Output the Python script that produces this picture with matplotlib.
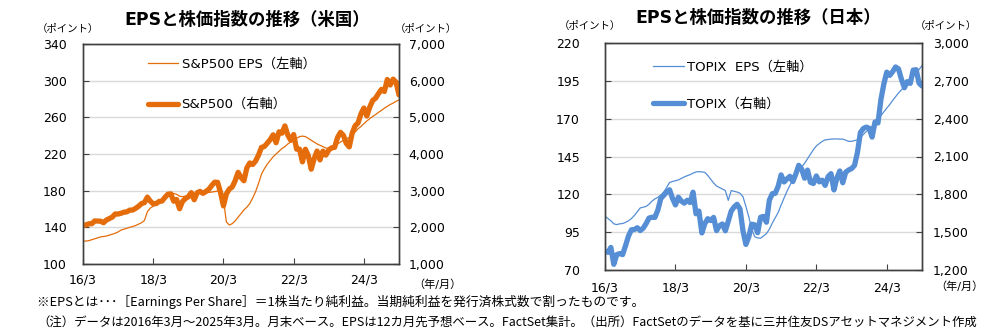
import matplotlib
matplotlib.use('Agg')
import matplotlib.pyplot as plt
import numpy as np

plt.rcParams['font.family'] = ['DejaVu Sans', 'Noto Sans CJK JP']

# 月末データ 2016/3 ～ 2025/3
sp500 = [2060, 2065, 2097, 2099, 2174, 2171, 2168, 2126, 2199, 2239,
         2279, 2364, 2363, 2384, 2412, 2423, 2470, 2472, 2519, 2575, 2648, 2674,
         2824, 2714, 2641, 2648, 2705, 2718, 2816, 2902, 2914, 2712, 2760, 2507,
         2704, 2784, 2834, 2946, 2752, 2942, 2980, 2926, 2977, 3038, 3141, 3231,
         3226, 2954, 2585, 2912, 3044, 3100, 3271, 3500, 3363, 3270, 3622, 3756,
         3714, 3811, 3973, 4181, 4204, 4298, 4395, 4523, 4308, 4605, 4567, 4766,
         4516, 4374, 4530, 4132, 4132, 3785, 4130, 3955, 3586, 3872, 4080, 3840,
         4077, 3970, 4109, 4169, 4180, 4450, 4589, 4508, 4288, 4194, 4568, 4770,
         4846, 5096, 5254, 5036, 5278, 5460, 5522, 5648, 5762, 5705, 6032, 5882,
         6041, 5955, 5612]

sp500_eps = [125, 125, 125.5, 126.5, 127.5, 128.5, 129.5, 130, 130.5, 131.5,
             132.5, 133.5, 135, 137, 138, 139, 140, 141, 142, 143.5, 145, 147.5,
             157, 161, 163, 166, 168, 170, 172.5, 174.5, 176, 177, 176, 174,
             173.5, 174, 175, 175.5, 176.5, 177, 177.5, 177.5, 178, 178, 178.5, 179,
             179.5, 179, 170, 146, 142.5, 144, 147, 151, 155, 159, 162, 166,
             172, 179, 188, 198, 204, 209, 213, 217, 220, 223, 226, 228,
             231, 233, 235, 237, 239, 239.5, 239, 237, 235, 233, 231, 229.5,
             228, 226.5, 226, 227, 228.5, 231, 233, 235, 236.5, 238, 241, 244,
             247.5, 250, 253, 256, 258.5, 261, 263, 265.5, 267.5, 270, 272, 274,
             275.5, 277.5, 279]

topix = [1347, 1340, 1379, 1245, 1322, 1330, 1322, 1393, 1469, 1519,
         1521, 1535, 1513, 1531, 1568, 1612, 1618, 1617, 1675, 1766, 1792, 1818,
         1836, 1768, 1716, 1777, 1747, 1730, 1753, 1735, 1817, 1646, 1667, 1494,
         1567, 1607, 1592, 1617, 1512, 1551, 1565, 1511, 1587, 1667, 1700, 1721,
         1684, 1511, 1403, 1464, 1563, 1558, 1496, 1618, 1625, 1579, 1754, 1805,
         1808, 1864, 1954, 1898, 1922, 1943, 1901, 1960, 2030, 2001, 1928, 1992,
         1895, 1886, 1946, 1899, 1912, 1871, 1940, 1964, 1835, 1929, 1985, 1892,
         1975, 1993, 2004, 2029, 2131, 2289, 2322, 2333, 2324, 2254, 2374, 2366,
         2551, 2675, 2769, 2743, 2773, 2810, 2794, 2712, 2645, 2694, 2680, 2785,
         2788, 2682, 2659]

topix_eps = [105.5, 104, 102.5, 100.5, 100, 100.5, 100.7, 101.5, 102.5, 104,
             106, 108.5, 111, 111.5, 112, 113.5, 115.5, 117, 118, 119.5, 121.5, 124.5,
             127.8, 128.5, 129, 129.5, 130.5, 131.5, 132.3, 133, 134, 134.8, 135, 134.8,
             134.5, 132.5, 130, 127.5, 125.5, 124.5, 123.5, 122.5, 116, 122.5, 122, 121.5,
             120.7, 118.5, 112, 105, 97, 92, 91.2, 91, 92.5, 94, 97, 101,
             104.5, 108, 113, 117.5, 122, 126, 129.5, 132.5, 135.5, 138, 140.5, 143.5,
             146.5, 149.5, 152, 153.5, 155, 156, 156.2, 156.5, 156.6, 156.6, 156.5, 156.5,
             155.8, 155, 155, 155.5, 156, 157.5, 159.5, 161.5, 163, 165, 167, 169.3,
             172, 174.5, 177, 179.3, 182, 184.5, 187, 189, 191.5, 194, 196, 198,
             200, 202.5, 205]

x_ticks = [0, 24, 48, 72, 96]
x_labels = ['16/3', '18/3', '20/3', '22/3', '24/3']

orange = '#E46C0A'
blue = '#558ED5'
dark = '#404040'
W, H = 1007, 336

fig = plt.figure(figsize=(W / 100, H / 100), dpi=100)


def make_panel(rect, eps, idx, color, ylim, yticks, rlim, rticks, eps_label, idx_label,
               lpad, rpad, xpad, leg_anchor, leg_space):
    ax = fig.add_axes(rect)
    axr = ax.twinx()
    x = np.arange(len(eps))
    l1, = ax.plot(x, eps, color=color, lw=0.9)
    l2, = axr.plot(x, idx, color=color, lw=3.8, solid_capstyle='round')
    ax.set_xlim(0, len(eps) - 1)
    ax.set_ylim(*ylim)
    ax.set_yticks(yticks)
    axr.set_ylim(*rlim)
    axr.set_yticks(rticks)
    axr.set_yticklabels([f'{v:,}' for v in rticks])
    ax.set_xticks(x_ticks)
    ax.set_xticklabels(x_labels)
    ax.grid(axis='y', color='#d9d9d9', lw=1)
    ax.set_axisbelow(True)
    for a in (ax, axr):
        for s in a.spines.values():
            s.set_color(dark)
            s.set_linewidth(1)
    ax.tick_params(axis='y', direction='in', length=4, color=dark, labelsize=9, pad=lpad)
    ax.tick_params(axis='x', direction='in', length=4, color=dark, labelsize=9, pad=xpad)
    axr.tick_params(axis='y', direction='in', length=4, color=dark, labelsize=9, pad=rpad)
    axr.legend([l1, l2], [eps_label, idx_label], loc='upper left',
               bbox_to_anchor=leg_anchor, frameon=False, fontsize=9.5,
               handlelength=2.3, handletextpad=0.25, labelspacing=leg_space)
    return ax, axr


make_panel([83 / W, 1 - 264 / H, 316 / W, 220 / H], sp500_eps, sp500, orange,
           (100, 340), np.arange(100, 341, 40), (1000, 7000), list(range(1000, 7001, 1000)),
           'S&P500 EPS（左軸）', 'S&P500（右軸）', 11.5, 7, 7, (0.168, 0.99), 2.05)
make_panel([605 / W, 1 - 270 / H, 317 / W, 227 / H], topix_eps, topix, blue,
           (70, 220), np.arange(70, 221, 25), (1200, 3000), list(range(1200, 3001, 300)),
           'TOPIX  EPS（左軸）', 'TOPIX（右軸）', 18, 8, 8.5, (0.115, 0.975), 1.85)

fig.text(247 / W, 1 - 20 / H, 'EPSと株価指数の推移（米国）', ha='center', va='center',
         fontsize=12.5, fontweight='bold')
fig.text(758 / W, 1 - 18 / H, 'EPSと株価指数の推移（日本）', ha='center', va='center',
         fontsize=12.5, fontweight='bold')
for xc, yc in [(68, 29), (426, 29), (590, 26), (946, 26)]:
    fig.text(xc / W, 1 - yc / H, '（ポイント）', ha='center', va='center', fontsize=7.5)
fig.text(437 / W, 1 - 285 / H, '（年/月）', ha='center', va='center', fontsize=8)
fig.text(959 / W, 1 - 287 / H, '（年/月）', ha='center', va='center', fontsize=8)

fig.text(37 / W, 1 - 302 / H,
         '※EPSとは･･･［Earnings Per Share］＝1株当たり純利益。当期純利益を発行済株式数で割ったものです。',
         ha='left', va='center', fontsize=9.2, family=['Noto Sans CJK JP', 'DejaVu Sans'])
fig.text(37 / W, 1 - 322 / H,
         '（注）データは2016年3月～2025年3月。月末ベース。EPSは12カ月先予想ベース。FactSet集計。'
         '（出所）FactSetのデータを基に三井住友DSアセットマネジメント作成',
         ha='left', va='center', fontsize=8.95, family=['Noto Sans CJK JP', 'DejaVu Sans'])

fig.savefig('out.png', dpi=100)
